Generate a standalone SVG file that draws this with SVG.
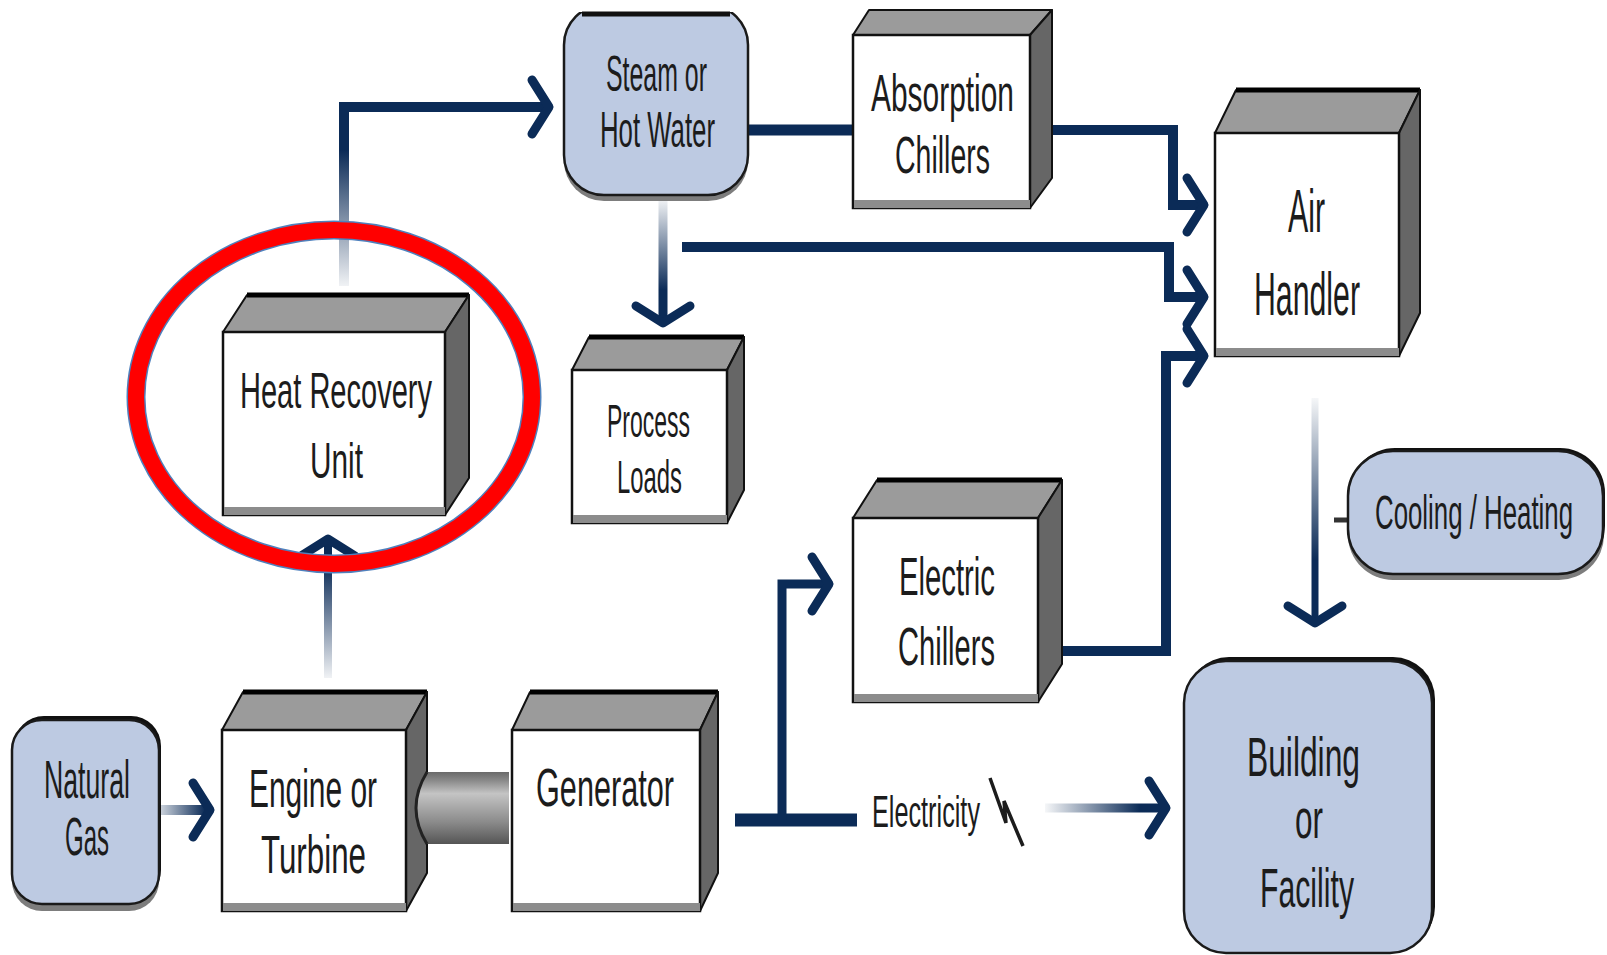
<svg xmlns="http://www.w3.org/2000/svg" width="1607" height="955" viewBox="0 0 1607 955">
<style>
.t{font-family:"Liberation Sans Narrow","Liberation Sans","DejaVu Sans Condensed",sans-serif;fill:#1c1c1c;}
.top{fill:#9b9b9b;stroke:#111;stroke-width:2;stroke-linejoin:round;}
.side{fill:#666;stroke:#111;stroke-width:2;stroke-linejoin:round;}
.front{fill:#fff;stroke:#111;stroke-width:2.5;}
.band{fill:#8c8c8c;}
.back{stroke:#000;stroke-width:5;}
.pill{fill:#bdcae2;stroke:#1a1a1a;stroke-width:2.5;}
.pdark{fill:#111;}
.pshd{fill:#7d7d7d;}
.ln{fill:none;stroke-linejoin:miter;}
</style>
<defs>
<marker id="chev" markerUnits="userSpaceOnUse" markerWidth="60" markerHeight="80" viewBox="-30 -40 60 80" refX="0" refY="0" orient="auto" overflow="visible">
<path d="M-17,-27 L0,0 L-17,27" fill="none" stroke="#0b2b57" stroke-width="9" stroke-linecap="round" stroke-linejoin="round"/>
</marker>
<linearGradient id="gC1" gradientUnits="userSpaceOnUse" x1="160" y1="0" x2="205" y2="0"><stop offset="0" stop-color="#0b2b57" stop-opacity="0.2"/><stop offset="1" stop-color="#0b2b57"/></linearGradient>
<linearGradient id="gC2" gradientUnits="userSpaceOnUse" x1="0" y1="678" x2="0" y2="565"><stop offset="0" stop-color="#0b2b57" stop-opacity="0.06"/><stop offset="1" stop-color="#0b2b57"/></linearGradient>
<linearGradient id="gC3" gradientUnits="userSpaceOnUse" x1="0" y1="286" x2="0" y2="150"><stop offset="0" stop-color="#0b2b57" stop-opacity="0.06"/><stop offset="1" stop-color="#0b2b57"/></linearGradient>
<linearGradient id="gC6" gradientUnits="userSpaceOnUse" x1="0" y1="200" x2="0" y2="290"><stop offset="0" stop-color="#0b2b57" stop-opacity="0.06"/><stop offset="1" stop-color="#0b2b57"/></linearGradient>
<linearGradient id="gC9" gradientUnits="userSpaceOnUse" x1="0" y1="398" x2="0" y2="560"><stop offset="0" stop-color="#0b2b57" stop-opacity="0.04"/><stop offset="1" stop-color="#0b2b57"/></linearGradient>
<linearGradient id="gC10" gradientUnits="userSpaceOnUse" x1="1045" y1="0" x2="1140" y2="0"><stop offset="0" stop-color="#0b2b57" stop-opacity="0.04"/><stop offset="1" stop-color="#0b2b57"/></linearGradient>
<linearGradient id="gShaft" x1="0" y1="0" x2="0" y2="1"><stop offset="0" stop-color="#6a6a6a"/><stop offset="0.12" stop-color="#8a8a8a"/><stop offset="0.3" stop-color="#c4c4c4"/><stop offset="0.7" stop-color="#8a8a8a"/><stop offset="1" stop-color="#555"/></linearGradient>
<clipPath id="cutTop"><rect x="0" y="12" width="1607" height="943"/></clipPath>
</defs>
<rect x="0" y="0" width="1607" height="955" fill="#fff"/>

<g id="connectors">
<path class="ln" d="M160,810 H210" stroke="url(#gC1)" stroke-width="10" marker-end="url(#chev)"/>
<path class="ln" d="M328,678 V539" stroke="url(#gC2)" stroke-width="8" marker-end="url(#chev)"/>
<path class="ln" d="M344,286 V107 H549" stroke="url(#gC3)" stroke-width="10" marker-end="url(#chev)"/>
<path class="ln" d="M748,130 H854" stroke="#0b2b57" stroke-width="11"/>
<path class="ln" d="M1052,130 H1173 V205 H1204" stroke="#0b2b57" stroke-width="10" marker-end="url(#chev)"/>
<path class="ln" d="M663,200 V323" stroke="url(#gC6)" stroke-width="9" marker-end="url(#chev)"/>
<path class="ln" d="M682,247 H1169 V297 H1204" stroke="#0b2b57" stroke-width="10" marker-end="url(#chev)"/>
<path class="ln" d="M1062,651 H1166 V356 H1204" stroke="#0b2b57" stroke-width="10" marker-end="url(#chev)"/>
<path class="ln" d="M1315,398 V623" stroke="url(#gC9)" stroke-width="7" marker-end="url(#chev)"/>
<path class="ln" d="M1045,808 H1166" stroke="url(#gC10)" stroke-width="9" marker-end="url(#chev)"/>
<path class="ln" d="M735,820 H857" stroke="#0b2b57" stroke-width="13"/>
<path class="ln" d="M782,820 V584 H829" stroke="#0b2b57" stroke-width="9" marker-end="url(#chev)"/>
<path d="M1334,520 H1349" stroke="#333" stroke-width="5"/>
</g>

<g id="natural-gas">
<rect class="pshd" x="12" y="727" width="147" height="184" rx="30"/>
<rect class="pdark" x="14" y="716" width="147" height="184" rx="30"/>
<rect class="pill" x="12" y="720" width="147" height="184" rx="30"/>
<text class="t" font-size="53" x="44" y="798" textLength="86" lengthAdjust="spacingAndGlyphs">Natural</text>
<text class="t" font-size="53" x="65" y="855" textLength="44" lengthAdjust="spacingAndGlyphs">Gas</text>
</g>

<g id="engine">
<polygon class="top" points="222,730 243,692 427,692 406,730"/>
<line class="back" x1="243" y1="692" x2="427" y2="692"/>
<polygon class="side" points="406,730 427,692 427,873 406,911"/>
<rect class="front" x="222" y="730" width="184" height="181"/>
<rect class="band" x="223" y="903" width="183" height="8"/>
<text class="t" font-size="53" x="249" y="807" textLength="128" lengthAdjust="spacingAndGlyphs">Engine or</text>
<text class="t" font-size="53" x="261" y="873" textLength="105" lengthAdjust="spacingAndGlyphs">Turbine</text>
</g>

<g id="shaft">
<path d="M427,772 H509 V844 H427 Q405,808 427,772 Z" fill="url(#gShaft)"/>
<path d="M427,772 Q405,808 427,844" fill="none" stroke="#222" stroke-width="3"/>
</g>

<g id="generator">
<polygon class="top" points="512,730 530,692 718,692 700,730"/>
<line class="back" x1="530" y1="692" x2="718" y2="692"/>
<polygon class="side" points="700,730 718,692 718,873 700,911"/>
<rect class="front" x="512" y="730" width="188" height="181"/>
<rect class="band" x="513" y="903" width="187" height="8"/>
<text class="t" font-size="53" x="536" y="806" textLength="138" lengthAdjust="spacingAndGlyphs">Generator</text>
</g>

<g id="heat-recovery">
<polygon class="top" points="223,332 247,295 469,295 445,332"/>
<line class="back" x1="247" y1="295" x2="469" y2="295"/>
<polygon class="side" points="445,332 469,295 469,478 445,515"/>
<rect class="front" x="223" y="332" width="222" height="183"/>
<rect class="band" x="224" y="507" width="221" height="8"/>
<text class="t" font-size="50" x="240" y="408" textLength="192" lengthAdjust="spacingAndGlyphs">Heat Recovery</text>
<text class="t" font-size="50" x="310" y="478" textLength="53" lengthAdjust="spacingAndGlyphs">Unit</text>
</g>

<g id="steam">
<g clip-path="url(#cutTop)">
<rect class="pshd" x="564" y="11" width="184" height="190" rx="40"/>
<rect class="pill" x="564" y="5" width="184" height="190" rx="40"/>
</g>
<line x1="582" y1="14" x2="730" y2="14" stroke="#111" stroke-width="5"/>
<text class="t" font-size="50" x="606" y="91" textLength="101" lengthAdjust="spacingAndGlyphs">Steam or</text>
<text class="t" font-size="50" x="600" y="147" textLength="115" lengthAdjust="spacingAndGlyphs">Hot Water</text>
</g>

<g id="absorption-chillers">
<polygon class="top" points="853,35 869,10 1052,10 1030,35"/>
<polygon class="side" points="1030,35 1052,10 1052,178 1030,208"/>
<rect class="front" x="853" y="35" width="177" height="173"/>
<rect class="band" x="854" y="200" width="176" height="8"/>
<text class="t" font-size="52" x="871" y="111" textLength="143" lengthAdjust="spacingAndGlyphs">Absorption</text>
<text class="t" font-size="52" x="895" y="173" textLength="95" lengthAdjust="spacingAndGlyphs">Chillers</text>
</g>

<g id="process-loads">
<polygon class="top" points="572,370 589,337 744,337 727,370"/>
<line class="back" x1="589" y1="337" x2="744" y2="337"/>
<polygon class="side" points="727,370 744,337 744,490 727,523"/>
<rect class="front" x="572" y="370" width="155" height="153"/>
<rect class="band" x="573" y="515" width="154" height="8"/>
<text class="t" font-size="47" x="607" y="437" textLength="83" lengthAdjust="spacingAndGlyphs">Process</text>
<text class="t" font-size="47" x="617" y="493" textLength="65" lengthAdjust="spacingAndGlyphs">Loads</text>
</g>

<g id="electric-chillers">
<polygon class="top" points="853,518 877,480 1062,480 1038,518"/>
<line class="back" x1="877" y1="480" x2="1062" y2="480"/>
<polygon class="side" points="1038,518 1062,480 1062,664 1038,702"/>
<rect class="front" x="853" y="518" width="185" height="184"/>
<rect class="band" x="854" y="694" width="184" height="8"/>
<text class="t" font-size="53" x="899" y="595" textLength="96" lengthAdjust="spacingAndGlyphs">Electric</text>
<text class="t" font-size="53" x="898" y="665" textLength="97" lengthAdjust="spacingAndGlyphs">Chillers</text>
</g>

<g id="air-handler">
<polygon class="top" points="1215,133 1236,90 1420,90 1399,133"/>
<line class="back" x1="1236" y1="90" x2="1420" y2="90"/>
<polygon class="side" points="1399,133 1420,90 1420,313 1399,356"/>
<rect class="front" x="1215" y="133" width="184" height="223"/>
<rect class="band" x="1216" y="348" width="183" height="8"/>
<text class="t" font-size="62" x="1288" y="232" textLength="37" lengthAdjust="spacingAndGlyphs">Air</text>
<text class="t" font-size="62" x="1254" y="315" textLength="106" lengthAdjust="spacingAndGlyphs">Handler</text>
</g>

<g id="cooling-heating">
<rect class="pshd" x="1348" y="457" width="256" height="123" rx="45"/>
<rect class="pdark" x="1350" y="448" width="255" height="123" rx="45"/>
<rect class="pill" x="1348" y="451" width="255" height="123" rx="45"/>
<text class="t" font-size="48" transform="translate(1375 529) scale(0.55 1)" x="0" y="0" textLength="360" lengthAdjust="spacingAndGlyphs">Cooling / Heating</text>
</g>

<g id="building">
<rect class="pdark" x="1187" y="657" width="248" height="292" rx="42"/>
<rect class="pill" x="1184" y="661" width="248" height="292" rx="42"/>
<text class="t" font-size="56" x="1247" y="776" textLength="113" lengthAdjust="spacingAndGlyphs">Building</text>
<text class="t" font-size="56" x="1295" y="838" textLength="28" lengthAdjust="spacingAndGlyphs">or</text>
<text class="t" font-size="56" x="1260" y="907" textLength="94" lengthAdjust="spacingAndGlyphs">Facility</text>
</g>

<g id="electricity-label">
<text class="t" font-size="44" x="872" y="827" textLength="108" lengthAdjust="spacingAndGlyphs">Electricity</text>
<polyline points="990,778 1006,823 1004,801 1023,846" fill="none" stroke="#1c1c1c" stroke-width="3.5" stroke-linejoin="miter"/>
</g>

<g id="highlight">
<ellipse cx="334" cy="397" rx="198" ry="167" fill="none" stroke="#4f81bd" stroke-width="19"/>
<ellipse cx="334" cy="397" rx="198" ry="167" fill="none" stroke="#ff0000" stroke-width="16"/>
</g>
</svg>
